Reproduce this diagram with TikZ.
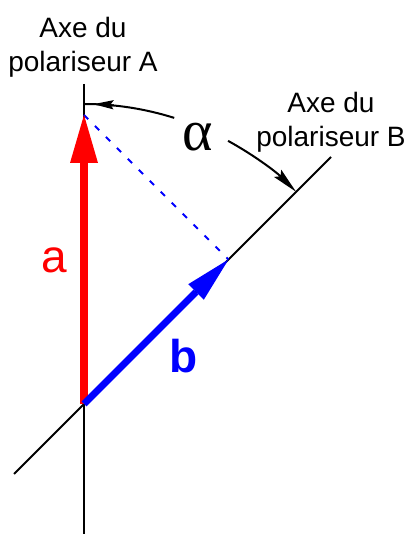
\documentclass[tikz,border=0pt]{standalone}
\usepackage{fontspec}
\setmainfont{Liberation Sans}
\newfontfamily\grserif{Liberation Serif}
\usetikzlibrary{arrows.meta,calc}
\begin{document}
\begin{tikzpicture}[x=1pt,y=1pt,
  axisline/.style={line width=2.4pt,black},
  dimline/.style={line width=2pt,black},
  lbl/.style={inner sep=0pt,font=\fontsize{28}{34}\selectfont,align=center},
  vlabel/.style={inner sep=0pt,anchor=base,font=\fontsize{46}{50}\selectfont},
]
\useasboundingbox (0,0) rectangle (408,534);
\coordinate (O) at (84,130);
\coordinate (VT) at (84,450);
\coordinate (VB) at (84,0);
\coordinate (BL) at (14,60);
\coordinate (BU) at (331,377);
\coordinate (RA) at (84,419);
\coordinate (BT) at ($(O)+(45:204.4)$);
% axes
\draw[axisline] (VT) -- (VB);
\draw[dimline] (BL) -- (BU);
% projection
\draw[blue,line width=2pt,dash pattern=on 6pt off 9.5pt] (RA) -- (BT);
% vectors
\draw[red,line width=8.5pt,-{Triangle[length=48pt,width=28pt,line width=0pt]}] (O) -- (RA);
\draw[blue,line width=7pt,-{Triangle[length=46pt,width=22pt,line width=0pt]}] (O) -- (BT);
% angle arc
\draw[dimline] (O) ++(90:300) arc[start angle=90,end angle=72.5,radius=300];
\draw[dimline,-{Stealth[length=20pt,width=9pt,inset=3pt]}] (O) ++(84.3:300) arc[start angle=84.3,end angle=88.2,radius=300];
\draw[dimline,-{Stealth[length=26pt,width=10pt,inset=4pt]}] (O) ++(61.3:300) arc[start angle=61.3,end angle=45,radius=300];
% labels
\node[lbl,anchor=north] (labA) at (83,517.4) {Axe du\\polariseur A};
\node[lbl,anchor=north] (labB) at (331,442.4) {Axe du\\polariseur B};
\node[vlabel,red] (la) at (54,261) {a};
\node[vlabel,blue,font=\fontsize{46}{50}\selectfont\bfseries] (lb) at (184,161) {b};
\node[inner sep=0pt,font=\fontsize{58}{60}\selectfont\grserif] (alpha) at (197.5,396.5) {α};
\end{tikzpicture}
\end{document}
